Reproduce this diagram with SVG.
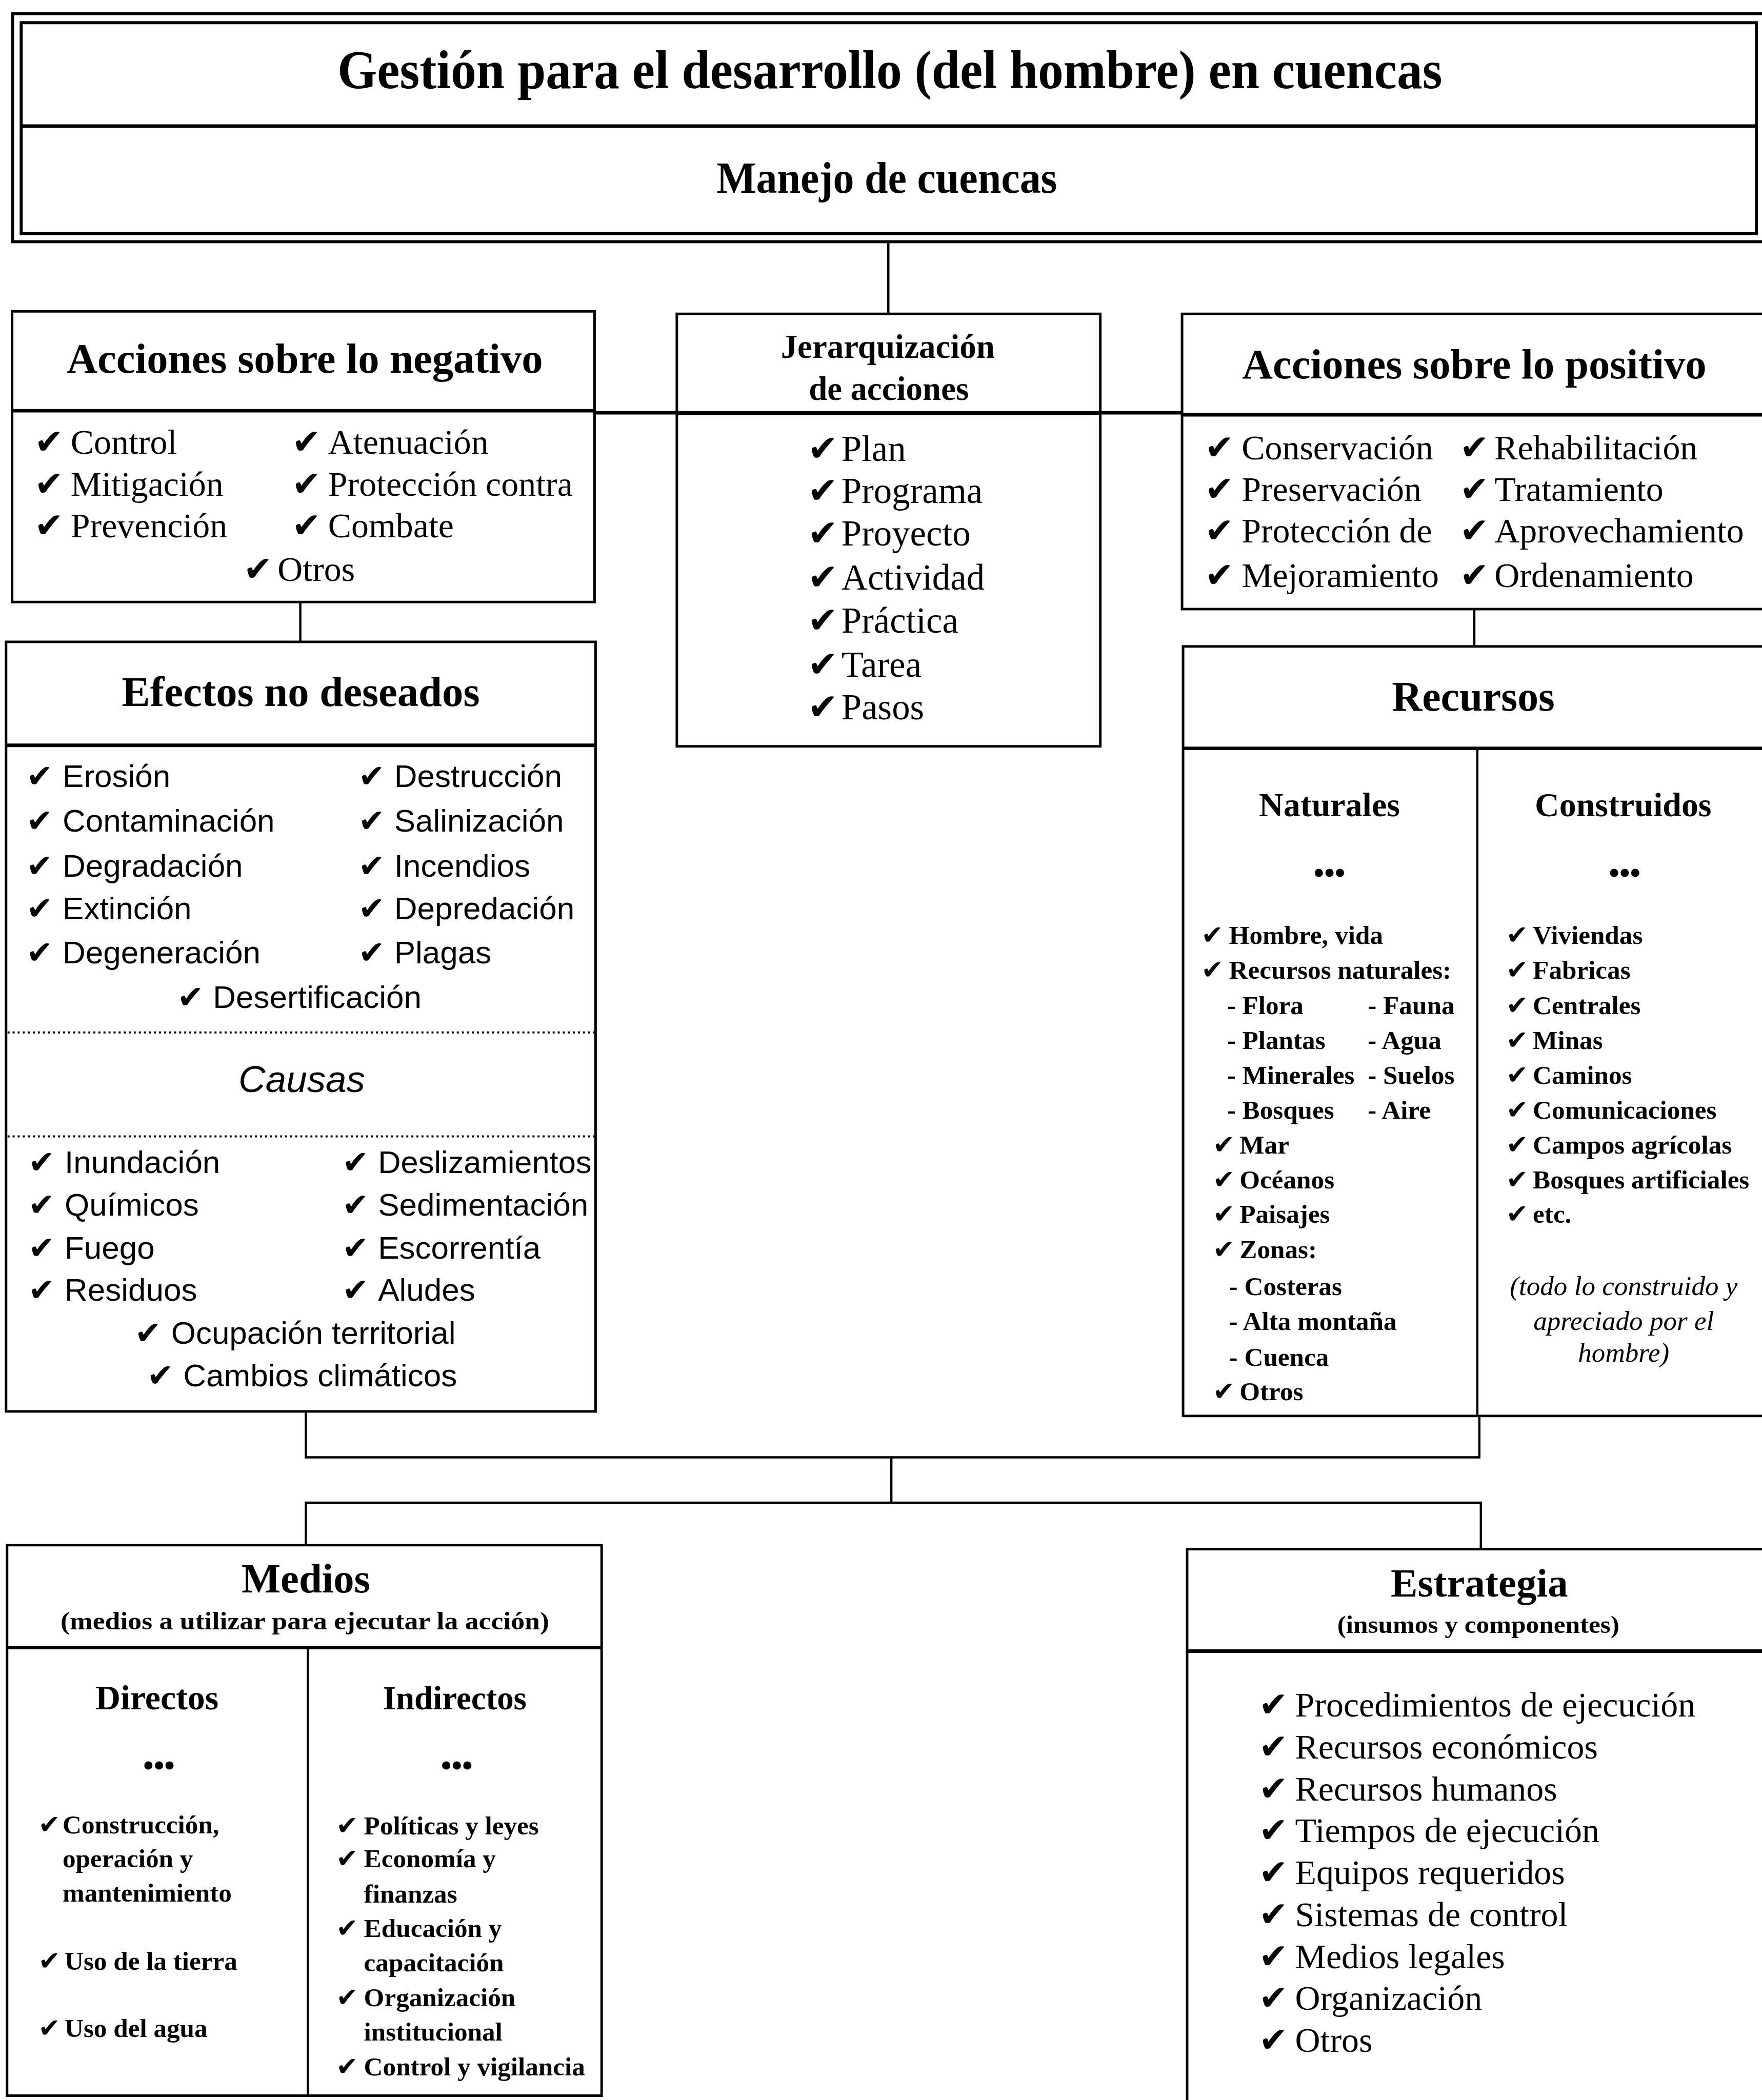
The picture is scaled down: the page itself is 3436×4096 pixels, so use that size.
<svg xmlns="http://www.w3.org/2000/svg" width="3436" height="4096" viewBox="0 0 3436 4096">
<style>
.b{fill:none;stroke:#000;stroke-width:5}
.d{stroke:#000;stroke-width:7}
.c{fill:none;stroke:#000;stroke-width:4.5}
.dt{stroke:#000;stroke-width:4;stroke-dasharray:4 6}
.h{font-family:'Liberation Serif',serif;font-weight:bold;text-anchor:middle}
.t{font-family:'Liberation Serif',serif}
.tb{font-family:'Liberation Serif',serif;font-weight:bold}
.s{font-family:'Liberation Sans',sans-serif}
.k{font-family:'DejaVu Sans',sans-serif;font-weight:normal;font-style:normal;font-size:1em}
.m{text-anchor:middle}
</style>
<rect width="3436" height="4096" fill="#fff"/>
<g transform="scale(0.98424)">
<g id="connectors">
<line class="c" x1="1760" y1="478" x2="1760" y2="622"/>
<line class="d" x1="1178" y1="818" x2="2342" y2="818"/>
<line class="c" x1="595" y1="1193" x2="595" y2="1272"/>
<line class="c" x1="2921" y1="1207" x2="2921" y2="1281"/>
<polyline class="c" points="606,2797 606,2888 2931,2888 2931,2806"/>
<line class="c" x1="1766" y1="2888" x2="1766" y2="2978"/>
<polyline class="c" points="606,3062 606,2978 2934,2978 2934,3070"/>
</g>
<g id="titulo">
<rect x="25" y="27" width="3480" height="452" fill="none" stroke="#000" stroke-width="6"/>
<rect x="42" y="45" width="3438" height="418" fill="none" stroke="#000" stroke-width="6"/>
<line class="d" x1="42" y1="250" x2="3480" y2="250"/>
<text class="h" x="1763" y="175" font-size="108" textLength="2189" lengthAdjust="spacingAndGlyphs">Gestión para el desarrollo (del hombre) en cuencas</text>
<text class="h" x="1757" y="382" font-size="88" textLength="675" lengthAdjust="spacingAndGlyphs">Manejo de cuencas</text>
</g>
<g id="negativo">
<rect class="b" x="24" y="617" width="1154" height="576"/>
<line class="d" x1="24" y1="814" x2="1178" y2="814"/>
<text class="h" x="604" y="739" font-size="84">Acciones sobre lo negativo</text>
<g class="t" font-size="69">
<text x="68" y="899"><tspan class="k">✔</tspan><tspan x="140">Control</tspan></text>
<text x="578" y="899"><tspan class="k">✔</tspan><tspan x="650">Atenuación</tspan></text>
<text x="68" y="983"><tspan class="k">✔</tspan><tspan x="140">Mitigación</tspan></text>
<text x="578" y="983"><tspan class="k">✔</tspan><tspan x="650">Protección contra</tspan></text>
<text x="68" y="1065"><tspan class="k">✔</tspan><tspan x="140">Prevención</tspan></text>
<text x="578" y="1065"><tspan class="k">✔</tspan><tspan x="650">Combate</tspan></text>
<text x="482" y="1151"><tspan class="k">✔</tspan><tspan x="550">Otros</tspan></text>
</g>
</g>
<g id="jerarquizacion">
<rect class="b" x="1341" y="622" width="839" height="857"/>
<line class="d" x1="1341" y1="819" x2="2180" y2="819"/>
<text class="h" x="1759" y="709" font-size="66">Jerarquización</text>
<text class="h" x="1761" y="793" font-size="66">de acciones</text>
<g class="t" font-size="72">
<text x="1600" y="913"><tspan class="k">✔</tspan><tspan x="1667">Plan</tspan></text>
<text x="1600" y="997"><tspan class="k">✔</tspan><tspan x="1667">Programa</tspan></text>
<text x="1600" y="1081"><tspan class="k">✔</tspan><tspan x="1667">Proyecto</tspan></text>
<text x="1600" y="1168"><tspan class="k">✔</tspan><tspan x="1667">Actividad</tspan></text>
<text x="1600" y="1254"><tspan class="k">✔</tspan><tspan x="1667">Práctica</tspan></text>
<text x="1600" y="1341"><tspan class="k">✔</tspan><tspan x="1667">Tarea</tspan></text>
<text x="1600" y="1425"><tspan class="k">✔</tspan><tspan x="1667">Pasos</tspan></text>
</g>
</g>
<g id="positivo">
<rect class="b" x="2342" y="622" width="1200" height="585"/>
<line class="d" x1="2342" y1="822" x2="3500" y2="822"/>
<text class="h" x="2921" y="750" font-size="84">Acciones sobre lo positivo</text>
<g class="t" font-size="69">
<text x="2387" y="910"><tspan class="k">✔</tspan><tspan x="2460">Conservación</tspan></text>
<text x="2892" y="910"><tspan class="k">✔</tspan><tspan x="2961">Rehabilitación</tspan></text>
<text x="2387" y="993"><tspan class="k">✔</tspan><tspan x="2460">Preservación</tspan></text>
<text x="2892" y="993"><tspan class="k">✔</tspan><tspan x="2961">Tratamiento</tspan></text>
<text x="2387" y="1075"><tspan class="k">✔</tspan><tspan x="2460">Protección de</tspan></text>
<text x="2892" y="1075"><tspan class="k">✔</tspan><tspan x="2961">Aprovechamiento</tspan></text>
<text x="2387" y="1163"><tspan class="k">✔</tspan><tspan x="2460">Mejoramiento</tspan></text>
<text x="2892" y="1163"><tspan class="k">✔</tspan><tspan x="2961">Ordenamiento</tspan></text>
</g>
</g>
<g id="efectos">
<rect class="b" x="12" y="1272" width="1168" height="1525"/>
<line class="d" x1="12" y1="1477" x2="1180" y2="1477"/>
<text class="h" x="596" y="1399" font-size="84">Efectos no deseados</text>
<g class="s" font-size="63">
<text x="52" y="1560"><tspan class="k">✔</tspan><tspan x="124">Erosión</tspan></text>
<text x="710" y="1560"><tspan class="k">✔</tspan><tspan x="781">Destrucción</tspan></text>
<text x="52" y="1648"><tspan class="k">✔</tspan><tspan x="124">Contaminación</tspan></text>
<text x="710" y="1648"><tspan class="k">✔</tspan><tspan x="781">Salinización</tspan></text>
<text x="52" y="1737"><tspan class="k">✔</tspan><tspan x="124">Degradación</tspan></text>
<text x="710" y="1737"><tspan class="k">✔</tspan><tspan x="781">Incendios</tspan></text>
<text x="52" y="1822"><tspan class="k">✔</tspan><tspan x="124">Extinción</tspan></text>
<text x="710" y="1822"><tspan class="k">✔</tspan><tspan x="781">Depredación</tspan></text>
<text x="52" y="1909"><tspan class="k">✔</tspan><tspan x="124">Degeneración</tspan></text>
<text x="710" y="1909"><tspan class="k">✔</tspan><tspan x="781">Plagas</tspan></text>
<text x="351" y="1998"><tspan class="k">✔</tspan><tspan x="422">Desertificación</tspan></text>
</g>
<line class="dt" x1="15" y1="2046" x2="1178" y2="2046"/>
<text class="s m" x="598" y="2164" font-size="74" font-style="italic">Causas</text>
<line class="dt" x1="15" y1="2252" x2="1178" y2="2252"/>
<g class="s" font-size="63">
<text x="56" y="2325"><tspan class="k">✔</tspan><tspan x="128">Inundación</tspan></text>
<text x="678" y="2325"><tspan class="k">✔</tspan><tspan x="749" textLength="423" lengthAdjust="spacingAndGlyphs">Deslizamientos</tspan></text>
<text x="56" y="2409"><tspan class="k">✔</tspan><tspan x="128">Químicos</tspan></text>
<text x="678" y="2409"><tspan class="k">✔</tspan><tspan x="749">Sedimentación</tspan></text>
<text x="56" y="2494"><tspan class="k">✔</tspan><tspan x="128">Fuego</tspan></text>
<text x="678" y="2494"><tspan class="k">✔</tspan><tspan x="749">Escorrentía</tspan></text>
<text x="56" y="2578"><tspan class="k">✔</tspan><tspan x="128">Residuos</tspan></text>
<text x="678" y="2578"><tspan class="k">✔</tspan><tspan x="749">Aludes</tspan></text>
<text x="267" y="2663"><tspan class="k">✔</tspan><tspan x="339">Ocupación territorial</tspan></text>
<text x="291" y="2747"><tspan class="k">✔</tspan><tspan x="363">Cambios climáticos</tspan></text>
</g>
</g>
<g id="recursos">
<rect class="b" x="2344" y="1281" width="1200" height="1525"/>
<line class="d" x1="2344" y1="1483" x2="3500" y2="1483"/>
<line class="c" x1="2927" y1="1483" x2="2927" y2="2806"/>
<text class="h" x="2919" y="1408" font-size="83">Recursos</text>
<text class="h" x="2634" y="1617" font-size="67">Naturales</text>
<text class="h" x="3216" y="1617" font-size="67">Construidos</text>
<text class="h" x="2634" y="1750" font-size="60">•••</text>
<text class="h" x="3219" y="1750" font-size="60">•••</text>
<g class="tb" font-size="52">
<text x="2380" y="1870"><tspan class="k">✔</tspan><tspan x="2435">Hombre, vida</tspan></text>
<text x="2380" y="1940"><tspan class="k">✔</tspan><tspan x="2435">Recursos naturales:</tspan></text>
<text x="2431" y="2010">- Flora</text><text x="2710" y="2010">- Fauna</text>
<text x="2431" y="2079">- Plantas</text><text x="2710" y="2079">- Agua</text>
<text x="2431" y="2148">- Minerales</text><text x="2710" y="2148">- Suelos</text>
<text x="2431" y="2217">- Bosques</text><text x="2710" y="2217">- Aire</text>
<text x="2403" y="2286"><tspan class="k">✔</tspan><tspan x="2456">Mar</tspan></text>
<text x="2403" y="2355"><tspan class="k">✔</tspan><tspan x="2456">Océanos</tspan></text>
<text x="2403" y="2423"><tspan class="k">✔</tspan><tspan x="2456">Paisajes</tspan></text>
<text x="2403" y="2493"><tspan class="k">✔</tspan><tspan x="2456">Zonas:</tspan></text>
<text x="2435" y="2566">- Costeras</text>
<text x="2435" y="2636">- Alta montaña</text>
<text x="2435" y="2707">- Cuenca</text>
<text x="2403" y="2775"><tspan class="k">✔</tspan><tspan x="2456">Otros</tspan></text>
<text x="2984" y="1870"><tspan class="k">✔</tspan><tspan x="3037">Viviendas</tspan></text>
<text x="2984" y="1940"><tspan class="k">✔</tspan><tspan x="3037">Fabricas</tspan></text>
<text x="2984" y="2010"><tspan class="k">✔</tspan><tspan x="3037">Centrales</tspan></text>
<text x="2984" y="2079"><tspan class="k">✔</tspan><tspan x="3037">Minas</tspan></text>
<text x="2984" y="2148"><tspan class="k">✔</tspan><tspan x="3037">Caminos</tspan></text>
<text x="2984" y="2217"><tspan class="k">✔</tspan><tspan x="3037">Comunicaciones</tspan></text>
<text x="2984" y="2286"><tspan class="k">✔</tspan><tspan x="3037">Campos agrícolas</tspan></text>
<text x="2984" y="2355"><tspan class="k">✔</tspan><tspan x="3037">Bosques artificiales</tspan></text>
<text x="2984" y="2423"><tspan class="k">✔</tspan><tspan x="3037">etc.</tspan></text>
</g>
<g class="t m" font-size="54" font-style="italic">
<text x="3217" y="2566">(todo lo construido y</text>
<text x="3217" y="2636">apreciado por el</text>
<text x="3217" y="2699">hombre)</text>
</g>
</g>
<g id="medios">
<rect class="b" x="14" y="3062" width="1178" height="1091"/>
<line class="d" x1="14" y1="3265" x2="1192" y2="3265"/>
<line class="c" x1="610" y1="3265" x2="610" y2="4153"/>
<text class="h" x="606" y="3156" font-size="82">Medios</text>
<text class="h" x="604" y="3229" font-size="50" textLength="968" lengthAdjust="spacingAndGlyphs">(medios a utilizar para ejecutar la acción)</text>
<text class="h" x="311" y="3387" font-size="69">Directos</text>
<text class="h" x="901" y="3387" font-size="66">Indirectos</text>
<text class="h" x="315" y="3518" font-size="60">•••</text>
<text class="h" x="905" y="3518" font-size="60">•••</text>
<g class="tb" font-size="52">
<text x="76" y="3633"><tspan class="k">✔</tspan><tspan x="124">Construcción,</tspan></text>
<text x="124" y="3700">operación y</text>
<text x="124" y="3768">mantenimiento</text>
<text x="76" y="3904"><tspan class="k">✔</tspan><tspan x="128">Uso de la tierra</tspan></text>
<text x="76" y="4037"><tspan class="k">✔</tspan><tspan x="128">Uso del agua</tspan></text>
<text x="666" y="3635"><tspan class="k">✔</tspan><tspan x="721">Políticas y leyes</tspan></text>
<text x="666" y="3700"><tspan class="k">✔</tspan><tspan x="721">Economía y</tspan></text>
<text x="721" y="3770">finanzas</text>
<text x="666" y="3839"><tspan class="k">✔</tspan><tspan x="721">Educación y</tspan></text>
<text x="721" y="3907">capacitación</text>
<text x="666" y="3976"><tspan class="k">✔</tspan><tspan x="721">Organización</tspan></text>
<text x="721" y="4044">institucional</text>
<text x="666" y="4113"><tspan class="k">✔</tspan><tspan x="721">Control y vigilancia</tspan></text>
</g>
</g>
<g id="estrategia">
<rect class="b" x="2352" y="3070" width="1200" height="1110"/>
<line class="d" x1="2352" y1="3272" x2="3500" y2="3272"/>
<text class="h" x="2931" y="3164" font-size="80">Estrategia</text>
<text class="h" x="2929" y="3236" font-size="50" textLength="559" lengthAdjust="spacingAndGlyphs">(insumos y componentes)</text>
<g class="t" font-size="69">
<text x="2494" y="3402"><tspan class="k">✔</tspan><tspan x="2566">Procedimientos de ejecución</tspan></text>
<text x="2494" y="3485"><tspan class="k">✔</tspan><tspan x="2566">Recursos económicos</tspan></text>
<text x="2494" y="3568"><tspan class="k">✔</tspan><tspan x="2566">Recursos humanos</tspan></text>
<text x="2494" y="3651"><tspan class="k">✔</tspan><tspan x="2566">Tiempos de ejecución</tspan></text>
<text x="2494" y="3734"><tspan class="k">✔</tspan><tspan x="2566">Equipos requeridos</tspan></text>
<text x="2494" y="3817"><tspan class="k">✔</tspan><tspan x="2566">Sistemas de control</tspan></text>
<text x="2494" y="3900"><tspan class="k">✔</tspan><tspan x="2566">Medios legales</tspan></text>
<text x="2494" y="3983"><tspan class="k">✔</tspan><tspan x="2566">Organización</tspan></text>
<text x="2494" y="4066"><tspan class="k">✔</tspan><tspan x="2566">Otros</tspan></text>
</g>
</g>
</g>
</svg>
